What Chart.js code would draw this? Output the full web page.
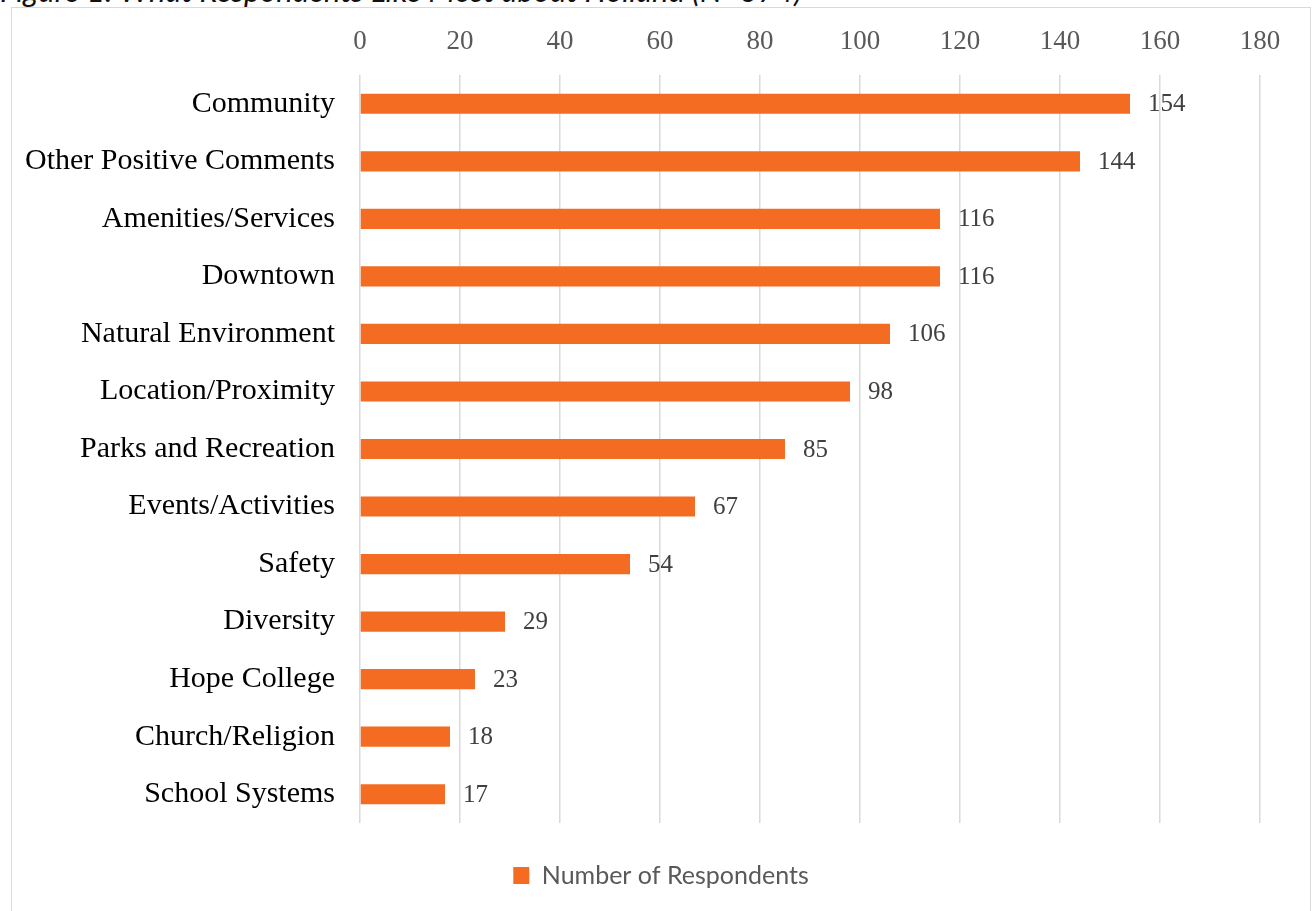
<!DOCTYPE html>
<html>
<head>
<meta charset="utf-8">
<script src="https://cdn.jsdelivr.net/npm/chart.js@4.4.1/dist/chart.umd.min.js"></script>
<style>
  html, body { margin: 0; padding: 0; background: #ffffff; width: 1312px; height: 911px; overflow: hidden; position: relative; }
  #caption {
    position: absolute; left: 0; top: -25px; margin: 0;
    font: italic 31px Lato, "Open Sans", sans-serif; line-height: 31px;
    color: #111111; white-space: nowrap;
  }
  #frame {
    position: absolute; left: 11px; top: 7px; width: 1300px; height: 930px;
    box-sizing: border-box; border: 1px solid #d9d9d9; background: #ffffff;
  }
  #chart { position: absolute; left: 0; top: 0; }
</style>
</head>
<body>
<div id="caption">Figure 1: What Respondents Like Most about Holland (N=374)</div>
<div id="frame"><canvas id="chart" width="1298" height="903"></canvas></div>
<script>
// Categories and counts, in display order (top to bottom)
const categories = [
  'Community', 'Other Positive Comments', 'Amenities/Services', 'Downtown',
  'Natural Environment', 'Location/Proximity', 'Parks and Recreation',
  'Events/Activities', 'Safety', 'Diversity', 'Hope College',
  'Church/Religion', 'School Systems'
];
const respondents = [154, 144, 116, 116, 106, 98, 85, 67, 54, 29, 23, 18, 17];
const seriesName = 'Number of Respondents';
const axisTicks = [0, 20, 40, 60, 80, 100, 120, 140, 160, 180];

const serif = '"Liberation Serif", "DejaVu Serif", serif';

// Writes each bar's count just past its end
const barValueLabels = {
  id: 'barValueLabels',
  afterDatasetsDraw(chart) {
    const ctx = chart.ctx;
    const meta = chart.getDatasetMeta(0);
    const values = chart.data.datasets[0].data;
    ctx.save();
    ctx.font = '25px ' + serif;
    ctx.fillStyle = '#404040';
    ctx.textAlign = 'left';
    ctx.textBaseline = 'middle';
    meta.data.forEach((bar, i) => {
      ctx.fillText(String(values[i]), bar.x + 18, bar.y + 1);
    });
    ctx.restore();
  }
};

new Chart(document.getElementById('chart'), {
  type: 'bar',
  data: {
    labels: categories,
    datasets: [{
      label: seriesName,
      data: respondents,
      xAxisID: 'x',
      yAxisID: 'y',
      backgroundColor: '#F36C21',
      borderWidth: 0,
      categoryPercentage: 1.0,
      barPercentage: 0.35
    }]
  },
  options: {
    indexAxis: 'y',
    responsive: false,
    animation: false,
    devicePixelRatio: 1,
    layout: { padding: { left: 0, right: 0, top: 0, bottom: 13 } },
    scales: {
      x: {
        position: 'top',
        min: axisTicks[0],
        max: axisTicks[axisTicks.length - 1],
        afterBuildTicks(scale) { scale.ticks = axisTicks.map(v => ({ value: v })); },
        afterFit(scale) { scale.height = 67; },
        grid: { color: '#d9d9d9', lineWidth: 1.5, drawTicks: false },
        border: { display: false },
        ticks: { padding: 17, color: '#595959', font: { family: serif, size: 27 } }
      },
      y: {
        type: 'category',
        afterFit(scale) { scale.width = 348; },
        grid: { display: false, drawTicks: false },
        border: { display: false },
        ticks: { padding: 25, color: '#000000', font: { family: serif, size: 30 } }
      },
      // empty band below the plot, above the legend
      spacer: {
        type: 'linear',
        axis: 'x',
        position: 'bottom',
        display: true,
        afterFit(scale) { scale.height = 30; },
        grid: { display: false },
        border: { display: false },
        ticks: { display: false }
      },
      // empty band to the right of the plot
      rightGutter: {
        type: 'linear',
        axis: 'y',
        position: 'right',
        display: true,
        afterFit(scale) { scale.width = 50; },
        grid: { display: false },
        border: { display: false },
        ticks: { display: false }
      }
    },
    plugins: {
      legend: {
        position: 'bottom',
        labels: {
          color: '#595959',
          font: { family: 'Lato, "Open Sans", sans-serif', size: 25 },
          boxWidth: 16,
          boxHeight: 17,
          padding: 10
        }
      },
      tooltip: { enabled: false }
    }
  },
  plugins: [barValueLabels]
});
</script>
</body>
</html>
